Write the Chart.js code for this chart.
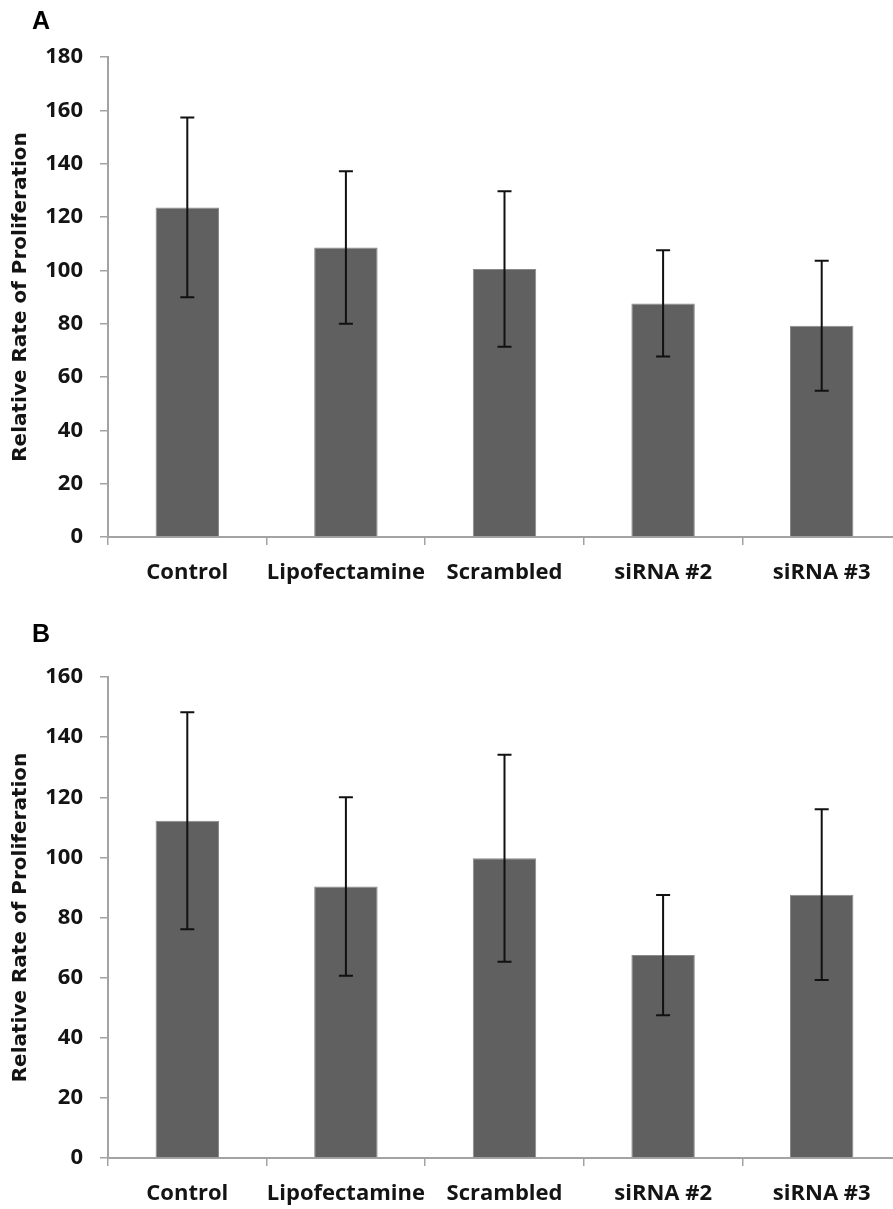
<!DOCTYPE html>
<html>
<head>
<meta charset="utf-8">
<script src="https://cdn.jsdelivr.net/npm/chart.js@4/dist/chart.umd.min.js"></script>
<style>
  html, body { margin: 0; padding: 0; background: #fff; overflow: hidden; }
  #wrap { position: relative; width: 901px; height: 1209px; }
  canvas { position: absolute; left: 0; }
  #chartA { top: 0; }
  #chartB { top: 600px; }
</style>
</head>
<body>
<div id="wrap">
  <canvas id="chartA" width="901" height="600"></canvas>
  <canvas id="chartB" width="901" height="609"></canvas>
</div>
<script>
// data
const categories = ["Control", "Lipofectamine", "Scrambled", "siRNA #2", "siRNA #3"];

const meanA = [123.6, 108.6, 100.5, 87.6, 79.2];
const errA = [33.7, 28.6, 29.2, 19.9, 24.4];
const yTicksA = [0, 20, 40, 60, 80, 100, 120, 140, 160, 180];

const meanB = [112.2, 90.3, 99.7, 67.5, 87.6];
const errB = [36.1, 29.7, 34.4, 20.0, 28.4];
const yTicksB = [0, 20, 40, 60, 80, 100, 120, 140, 160];

const yTitle = "Relative Rate of Proliferation";

const axisGray = "#a3a3a3";
const textColor = "#141414";
const tickFont = { family: "'Open Sans', sans-serif", size: 22, weight: "bold" };

// draws the +/- error whiskers on top of the bars
const errorBars = {
    id: "errorBars",
    afterDatasetsDraw(chart, args, opts) {
        const ctx = chart.ctx;
        const meta = chart.getDatasetMeta(0);
        const y = chart.scales.y;
        const means = chart.data.datasets[0].data;
        ctx.save();
        ctx.strokeStyle = "#111";
        ctx.lineWidth = 2;
        meta.data.forEach((bar, i) => {
            const hi = y.getPixelForValue(means[i] + opts.err[i]);
            const lo = y.getPixelForValue(means[i] - opts.err[i]);
            ctx.beginPath();
            ctx.moveTo(bar.x, hi);
            ctx.lineTo(bar.x, lo);
            ctx.moveTo(bar.x - 7, hi);
            ctx.lineTo(bar.x + 7, hi);
            ctx.moveTo(bar.x - 7, lo);
            ctx.lineTo(bar.x + 7, lo);
            ctx.stroke();
        });
        ctx.restore();
    }
};

// panel letter (A / B)
const panelLabel = {
    id: "panelLabel",
    afterDraw(chart, args, opts) {
        const ctx = chart.ctx;
        ctx.save();
        ctx.fillStyle = "#000";
        ctx.font = "bold 25px 'Liberation Sans', Arial, sans-serif";
        ctx.textBaseline = "alphabetic";
        ctx.fillText(opts.text, opts.x, opts.y);
        ctx.restore();
    }
};

function makeChart(id, means, errs, yTicks, padTop, xHeight, letter, letterY) {
    new Chart(document.getElementById(id), {
        type: "bar",
        data: {
            labels: categories,
            datasets: [{
                data: means,
                backgroundColor: "#606060",
                borderColor: "#8a8a8a",
                borderWidth: 1,
                barPercentage: 0.8,
                categoryPercentage: 0.5
            }]
        },
        options: {
            responsive: false,
            animation: false,
            events: [],
            layout: { padding: { top: padTop, left: 0, right: 0, bottom: 0 } },
            plugins: {
                legend: { display: false },
                tooltip: { enabled: false },
                errorBars: { err: errs },
                panelLabel: { text: letter, x: 32, y: letterY }
            },
            scales: {
                x: {
                    afterFit: s => { s.height = xHeight; },
                    grid: {
                        drawOnChartArea: false,
                        drawTicks: true,
                        tickLength: 8,
                        color: axisGray,
                        lineWidth: 1.5
                    },
                    border: { color: axisGray, width: 2 },
                    ticks: { color: textColor, font: tickFont, padding: 15, maxRotation: 0, autoSkip: false }
                },
                y: {
                    min: yTicks[0],
                    max: yTicks[yTicks.length - 1],
                    afterFit: s => { s.width = 108; },
                    afterBuildTicks: s => { s.ticks = yTicks.map(v => ({ value: v })); },
                    grid: {
                        drawOnChartArea: false,
                        drawTicks: true,
                        tickLength: 8,
                        color: axisGray,
                        lineWidth: 1.5
                    },
                    border: { color: axisGray, width: 2 },
                    ticks: { color: textColor, font: tickFont, padding: 17, autoSkip: false },
                    title: {
                        display: true,
                        text: yTitle,
                        color: textColor,
                        font: { family: "'DejaVu Sans', sans-serif", size: 20, weight: "bold" },
                        padding: { top: 9, bottom: 4 }
                    }
                }
            }
        },
        plugins: [errorBars, panelLabel]
    });
}

makeChart("chartA", meanA, errA, yTicksA, 57, 63, "A", 29);
makeChart("chartB", meanB, errB, yTicksB, 77, 51, "B", 42);
</script>
</body>
</html>
